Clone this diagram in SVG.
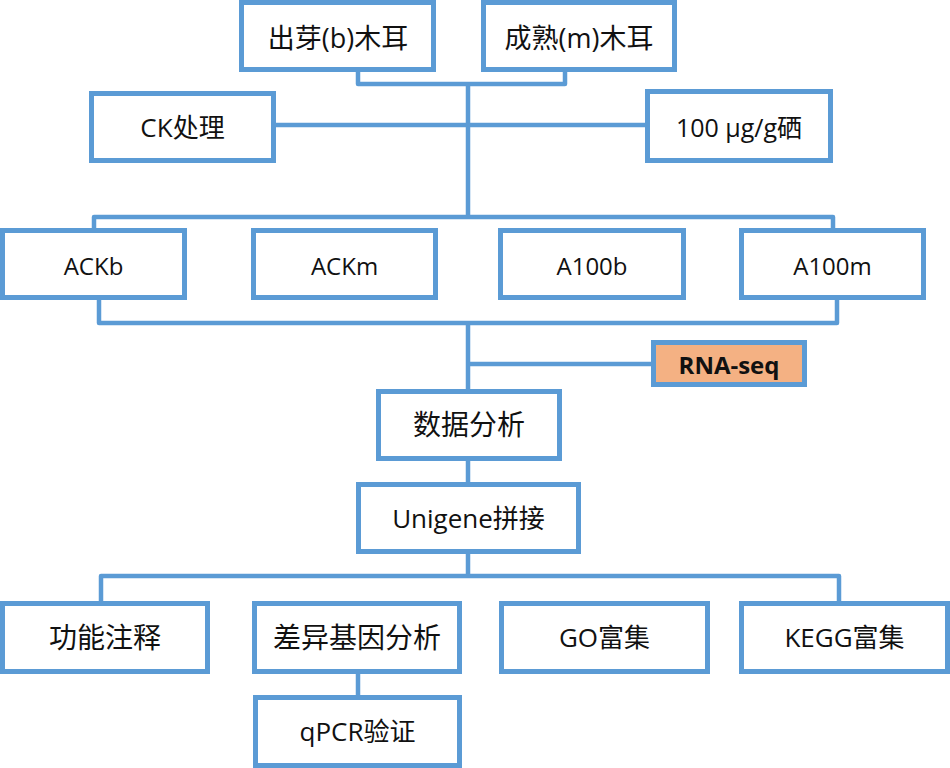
<svg xmlns="http://www.w3.org/2000/svg" width="950" height="768" viewBox="0 0 950 768">
<style>
.box{fill:#fff;stroke:#5B9BD5;stroke-width:5}
.rna{fill:#F4B183;stroke:#5B9BD5;stroke-width:5}
.c{fill:none;stroke:#5B9BD5;stroke-width:4.5;stroke-linejoin:round}
text{font-family:"Open Sans","Noto Sans CJK SC",sans-serif;fill:#111;text-anchor:middle;dominant-baseline:central}
.t26{font-size:26px}.t27{font-size:27px}.t24{font-size:24px}.t25{font-size:25px}.t28{font-size:28px}
.b{font-weight:bold;font-size:24px}
</style>
<rect width="950" height="768" fill="#fff"/>
<g id="connectors">
<path class="c" d="M358,72 V84 H565 V72"/>
<path class="c" d="M468,84 V217"/>
<path class="c" d="M276,125 H645"/>
<path class="c" d="M94,229 V217 H833 V229"/>
<path class="c" d="M99,300 V323 H837 V300"/>
<path class="c" d="M468,323 V390"/>
<path class="c" d="M468,364 H651"/>
<path class="c" d="M468,461 V482"/>
<path class="c" d="M468,554 V576"/>
<path class="c" d="M101,602 V576 H839 V602"/>
<path class="c" d="M358,674 V696"/>
</g>
<g id="n1"><rect class="box" x="241.5" y="2.5" width="192" height="67"/><text class="t27" x="338" y="37">出芽(b)木耳</text></g>
<g id="n2"><rect class="box" x="483.5" y="2.5" width="191" height="67"/><text class="t27" x="579" y="37">成熟(m)木耳</text></g>
<g id="n3"><rect class="box" x="91.5" y="93.5" width="182" height="67"/><text class="t26" x="182.5" y="127">CK处理</text></g>
<g id="n4"><rect class="box" x="647.5" y="91.5" width="183" height="69"/><text class="t25" x="739" y="127">100 µg/g硒</text></g>
<g id="n5"><rect class="box" x="2.5" y="230.5" width="182" height="67"/><text class="t24" x="93.5" y="265">ACKb</text></g>
<g id="n6"><rect class="box" x="253.5" y="230.5" width="182" height="67"/><text class="t24" x="344.5" y="265">ACKm</text></g>
<g id="n7"><rect class="box" x="500.5" y="230.5" width="183" height="67"/><text class="t24" x="592" y="265">A100b</text></g>
<g id="n8"><rect class="box" x="741.5" y="230.5" width="182" height="67"/><text class="t24" x="832.5" y="265">A100m</text></g>
<g id="n9"><rect class="rna" x="653.5" y="342.5" width="151" height="42"/><text class="b" x="729" y="364">RNA-seq</text></g>
<g id="n10"><rect class="box" x="378.5" y="391.5" width="181" height="67"/><text class="t28" x="469" y="424">数据分析</text></g>
<g id="n11"><rect class="box" x="358.5" y="484.5" width="220" height="67"/><text class="t26" x="468.5" y="518">Unigene拼接</text></g>
<g id="n12"><rect class="box" x="2.5" y="603.5" width="205" height="68"/><text class="t28" x="105" y="637">功能注释</text></g>
<g id="n13"><rect class="box" x="254.5" y="603.5" width="205" height="68"/><text class="t28" x="357" y="637">差异基因分析</text></g>
<g id="n14"><rect class="box" x="501.5" y="603.5" width="206" height="68"/><text class="t26" x="604.5" y="637">GO富集</text></g>
<g id="n15"><rect class="box" x="741.5" y="603.5" width="206" height="68"/><text class="t26" x="844.5" y="637">KEGG富集</text></g>
<g id="n16"><rect class="box" x="255.5" y="697.5" width="204" height="68"/><text class="t26" x="357.5" y="731">qPCR验证</text></g>
</svg>
